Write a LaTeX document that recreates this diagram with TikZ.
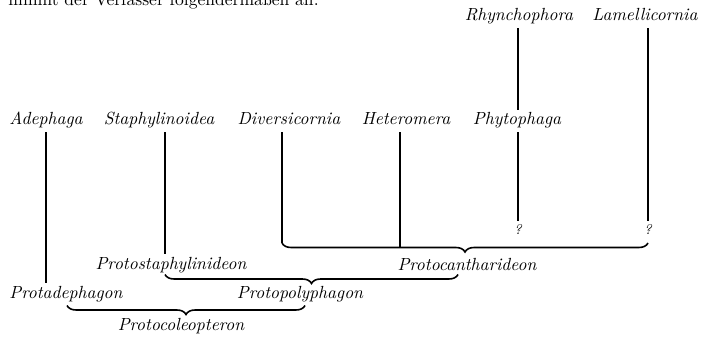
\documentclass[tikz,border=0pt]{standalone}
\usetikzlibrary{decorations.pathreplacing}

\begin{document}
\begin{tikzpicture}[x = 0.02cm, y = -0.02cm,
	group/.style = {font = \itshape, anchor = base, inner sep = 1.5pt, text height = 7pt, text depth = 2.5pt},
	query/.style = {font = \footnotesize\itshape, inner sep = 1.5pt},
	branch/.style = {line width = 1.1pt},
	clade/.style = {decorate, decoration = {brace, mirror, amplitude = 0.18cm}, line width = 0.9pt}]

	\useasboundingbox (0, 0) rectangle (702, 337);

	% Running text above the tree

	\node [anchor = base west, inner sep = 0pt] (intro) at (8, 6) {nimmt der Verfasser folgendermaßen an:};

	% Recent groups

	\node [group] (rhynchophora) at (519, 21) {Rhynchophora};
	\node [group] (lamellicornia) at (645, 21) {Lamellicornia};

	\node [group] (adephaga) at (46, 125) {Adephaga};
	\node [group] (staphylinoidea) at (159, 125) {Staphylinoidea};
	\node [group] (diversicornia) at (289, 125) {Diversicornia};
	\node [group] (heteromera) at (406, 125) {Heteromera};
	\node [group] (phytophaga) at (517, 125) {Phytophaga};

	\node [query] (qphyt) at (518, 229) {?};
	\node [query] (qlam) at (648, 229) {?};

	% Ancestral groups

	\node [group] (protostaphylinideon) at (171, 269) {Protostaphylinideon};
	\node [group] (protocantharideon) at (467, 270) {Protocantharideon};
	\node [group] (protadephagon) at (66, 298) {Protadephagon};
	\node [group] (protopolyphagon) at (300, 298) {Protopolyphagon};
	\node [group] (protocoleopteron) at (181, 330) {Protocoleopteron};

	% Brace ends

	\coordinate (canthar-l) at (282, 243);
	\coordinate (canthar-r) at (648, 243);
	\coordinate (canthar-bar) at (400, 247.5);
	\coordinate (staph-l) at (165, 274.5);
	\coordinate (staph-r) at (458, 274.5);
	\coordinate (coleo-l) at (67, 305.5);
	\coordinate (coleo-r) at (305, 305.5);

	% Branches

	\draw [branch] (rhynchophora.south -| qphyt) -- (phytophaga.north -| qphyt);
	\draw [branch] (phytophaga.south -| qphyt) -- (qphyt.north);
	\draw [branch] (lamellicornia.south -| qlam) -- (qlam.north);
	\draw [branch] (adephaga.south) -- (adephaga.south |- protadephagon.north);
	\draw [branch] (staphylinoidea.south -| staph-l) -- (staph-l |- protostaphylinideon.north);
	\draw [branch] (diversicornia.south -| canthar-l) -- (canthar-l);
	\draw [branch] (heteromera.south -| canthar-bar) -- (canthar-bar);

	% Braces

	\draw [clade] (canthar-l) -- (canthar-r);
	\draw [clade] (staph-l) -- (staph-r);
	\draw [clade] (coleo-l) -- (coleo-r);

\end{tikzpicture}
\end{document}
